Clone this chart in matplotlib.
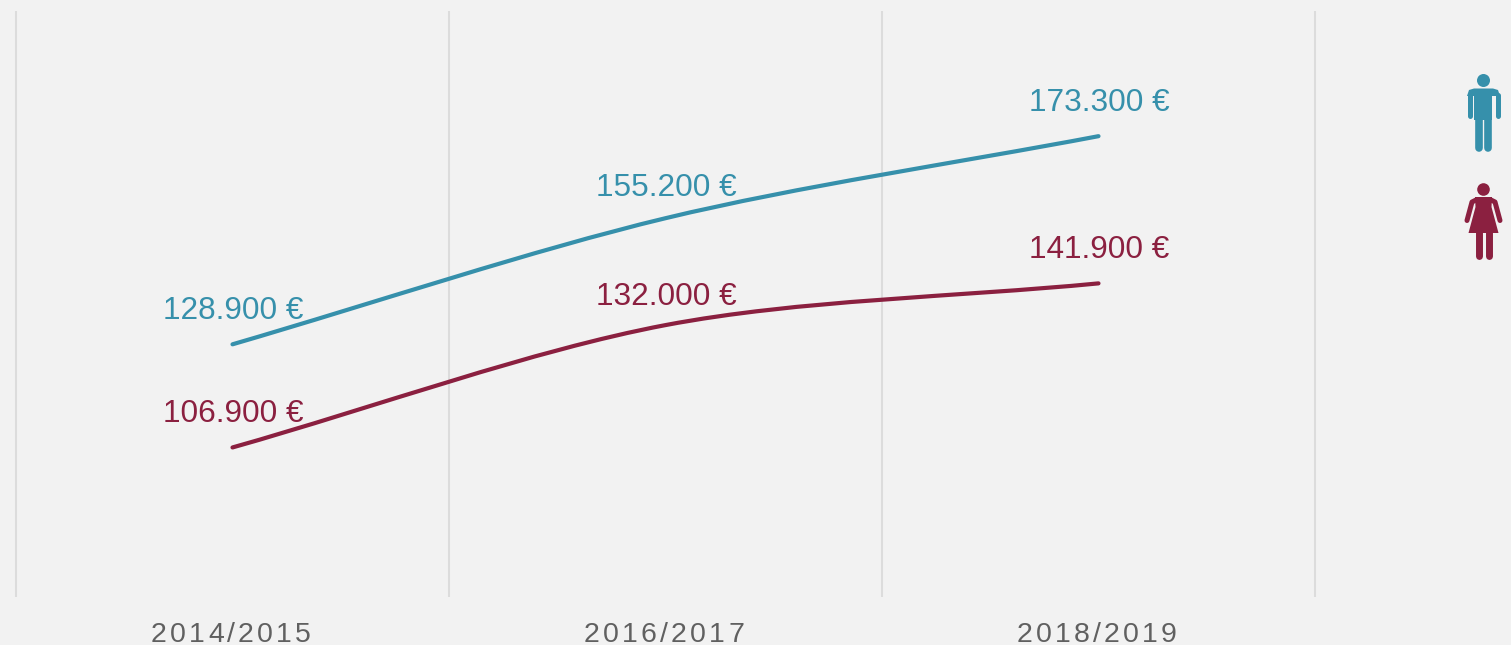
import matplotlib
matplotlib.use('Agg')
from matplotlib import pyplot as plt
from matplotlib.lines import Line2D
from matplotlib.patches import Circle, PathPatch, Polygon
from matplotlib.path import Path
from matplotlib.text import Text
from matplotlib.transforms import Affine2D, blended_transform_factory
import numpy as np

years = ['2014/2015', '2016/2017', '2018/2019']
men = [128900, 155200, 173300]
women = [106900, 132000, 141900]
# the drawn lines run a bit above the labelled value in the middle year
men_line = [128900, 155800, 173300]
women_line = [106900, 133000, 141900]
men_labels = ['128.900 €', '155.200 €', '173.300 €']
women_labels = ['106.900 €', '132.000 €', '141.900 €']

BG = '#f2f2f2'
GRID = '#dcdcdc'
BLUE = '#3690ab'
RED = '#8b2040'
GREY = '#606060'
W, H = 1511, 645

plt.rcParams['font.family'] = ['Liberation Sans', 'DejaVu Sans']


# matplotlib has no letter spacing, the string stays whole and is drawn char by char
class SpacedText(Text):
    def __init__(self, *args, tracking=0, **kwargs):
        super().__init__(*args, **kwargs)
        self.tracking = tracking

    def draw(self, renderer):
        s = self.get_text()
        x, y = self.get_transform().transform(self.get_position())
        prop = self.get_fontproperties()
        widths = [renderer.get_text_width_height_descent(c, prop, False)[0] for c in s]
        x -= (sum(widths) + self.tracking * len(s)) / 2
        for c, w in zip(s, widths):
            t = Text(x, y, c, fontproperties=prop, color=self.get_color(),
                     ha='left', va='baseline', transform=Affine2D())
            t.set_figure(self.get_figure())
            t.draw(renderer)
            x += w + self.tracking


# straight at both ends, the bend sits around the middle point
def curve_path(xs, ys, handle=0.31):
    xs = np.array(xs, dtype=float)
    ys = np.array(ys, dtype=float)
    s0 = ys[1] - ys[0]
    s1 = ys[2] - ys[1]
    mid = (s0 + s1) / 2
    verts = [(xs[0], ys[0]),
             (xs[0] + 1 / 3, ys[0] + s0 / 3), (xs[1] - handle, ys[1] - handle * mid), (xs[1], ys[1]),
             (xs[1] + handle, ys[1] + handle * mid), (xs[2] - 1 / 3, ys[2] - s1 / 3), (xs[2], ys[2])]
    codes = [Path.MOVETO] + [Path.CURVE4] * 6
    return Path(verts, codes)


fig = plt.figure(figsize=(W / 100, H / 100), dpi=100, facecolor=BG)
ax = fig.add_axes([16 / W, 1 - 597 / H, (1315 - 16) / W, (597 - 11) / H], facecolor=BG)
ax.set_xlim(-0.5, 2.5)
ax.set_ylim(75000, 200000)
for s in ax.spines.values():
    s.set_visible(False)
ax.set_yticks([])
ax.set_xticks([])
for x in [-0.5, 0.5, 1.5, 2.5]:
    ax.axvline(x, color=GRID, lw=1.5, clip_on=False, zorder=1, solid_capstyle='butt')

pos = np.arange(len(years))
for vals, line, labels, col in [(men, men_line, men_labels, BLUE), (women, women_line, women_labels, RED)]:
    ax.add_patch(PathPatch(curve_path(pos, line), fill=False, edgecolor=col, lw=3,
                           capstyle='round', zorder=3))
    for p, v, lab in zip(pos, vals, labels):
        ax.annotate(lab, (p, v), xytext=(0.7, 18.2), textcoords='offset points',
                    ha='center', va='baseline', color=col, fontsize=22.7, zorder=4)

# category labels under the axes
tick_tr = blended_transform_factory(ax.transData, Affine2D().scale(1, -1).translate(0, H))
for p, y in zip(pos, years):
    t = SpacedText(p, 641.5, y, tracking=3.2, color=GREY, fontsize=20.5, transform=tick_tr)
    t.set_clip_on(False)
    ax.add_artist(t)

# icons, in pixels from the top left
px = Affine2D().scale(1, -1).translate(0, H)


def stroke(xs, ys, col, lw):
    fig.add_artist(Line2D(xs, ys, color=col, lw=lw, solid_capstyle='round',
                          solid_joinstyle='round', transform=px))


fig.add_artist(Circle((1483.5, 80.5), 6.5, fc=BLUE, ec='none', transform=px))
fig.add_artist(Polygon([(1474, 88.5), (1493, 88.5), (1498, 90), (1500, 96), (1467, 96), (1469, 90)],
                       fc=BLUE, ec='none', transform=px))
fig.add_artist(Polygon([(1474, 94), (1492, 94), (1492, 120), (1474, 120)],
                       fc=BLUE, ec='none', transform=px))
stroke([1469.5, 1469.5], [95, 116], BLUE, 3.6)
stroke([1497.5, 1497.5], [95, 116], BLUE, 3.6)
stroke([1478.8, 1478.8], [116, 147.5], BLUE, 5.5)
stroke([1488.2, 1488.2], [116, 147.5], BLUE, 5.5)

fig.add_artist(Circle((1483.5, 189.5), 6.3, fc=RED, ec='none', transform=px))
fig.add_artist(Polygon([(1475, 197), (1492, 197), (1491.5, 207), (1498.5, 233), (1468.5, 233), (1475.5, 207)],
                       fc=RED, ec='none', transform=px))
stroke([1477, 1472, 1467], [199.5, 202, 220.5], RED, 3.6)
stroke([1490, 1495, 1500], [199.5, 202, 220.5], RED, 3.6)
stroke([1479.2, 1479.2], [230, 256], RED, 5)
stroke([1488.8, 1488.8], [230, 256], RED, 5)

fig.savefig('out.png', dpi=100, facecolor=BG)
